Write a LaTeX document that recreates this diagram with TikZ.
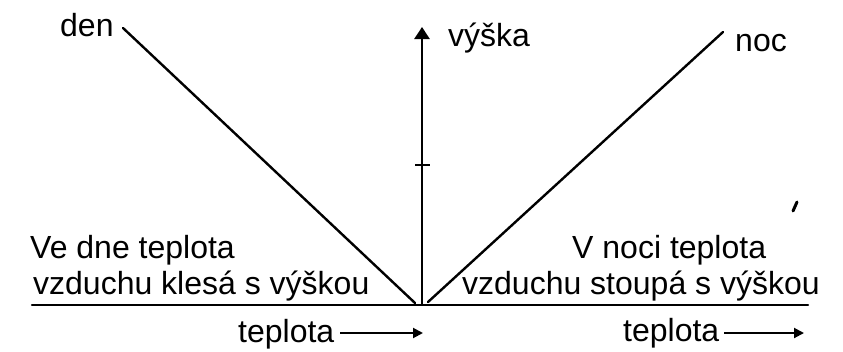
\documentclass[tikz,border=0pt]{standalone}
\usepackage{fontspec}
\setmainfont{Liberation Sans}
\usetikzlibrary{arrows.meta}
\begin{document}
\begin{tikzpicture}[x=1pt,y=-1pt,
  lbl/.style={anchor=base west,inner sep=0pt,font=\fontsize{32}{36}\selectfont},
  ln/.style={line width=2.4pt,line cap=round},
  axis/.style={line width=2.6pt,-{Triangle[length=12pt,width=15pt]}},
  tarrow/.style={line width=2pt,-{Triangle[length=10pt,width=10pt]}}]
\useasboundingbox[fill=white] (0,0) rectangle (843,351);
% texts
\node[lbl] (den) at (60,36) {den};
\node[lbl] (vyska) at (448,46) {výška};
\node[lbl] (noc) at (735,51) {noc};
\node[lbl] (l1) at (30,258) {Ve dne teplota};
\node[lbl] (l2) at (33,294) {vzduchu klesá s výškou};
\node[lbl] (r1) at (572,258) {V noci teplota};
\node[lbl] (r2) at (462,294) {vzduchu stoupá s výškou};
\node[lbl] (tl) at (238,342) {teplota};
\node[lbl] (tr) at (623,341) {teplota};
% coordinates
\coordinate (o) at (422,305);
\coordinate (top) at (422,27);
\coordinate (dtop) at (123,28);
\coordinate (dbot) at (415,303);
\coordinate (nbot) at (428,302);
\coordinate (ntop) at (723,32);
\coordinate (hl) at (32,305);
\coordinate (hr) at (808,305);
\coordinate (tick1) at (415,165);
\coordinate (tick2) at (430,165);
\coordinate (tla) at (340,333);
\coordinate (tlb) at (423,333);
\coordinate (tra) at (724,333);
\coordinate (trb) at (804,333);
% drawing
\draw[ln] (hl) -- (hr);
\draw[axis] (o) -- (top);
\draw[line width=1.2pt] (tick1) -- (tick2);
\draw[ln] (dtop) -- (dbot);
\draw[ln] (nbot) -- (ntop);
\draw[tarrow] (tla) -- (tlb);
\draw[tarrow] (tra) -- (trb);
% scan blot
\draw[line width=3pt,line cap=round] (797,202) -- (793,211);
\end{tikzpicture}
\end{document}
